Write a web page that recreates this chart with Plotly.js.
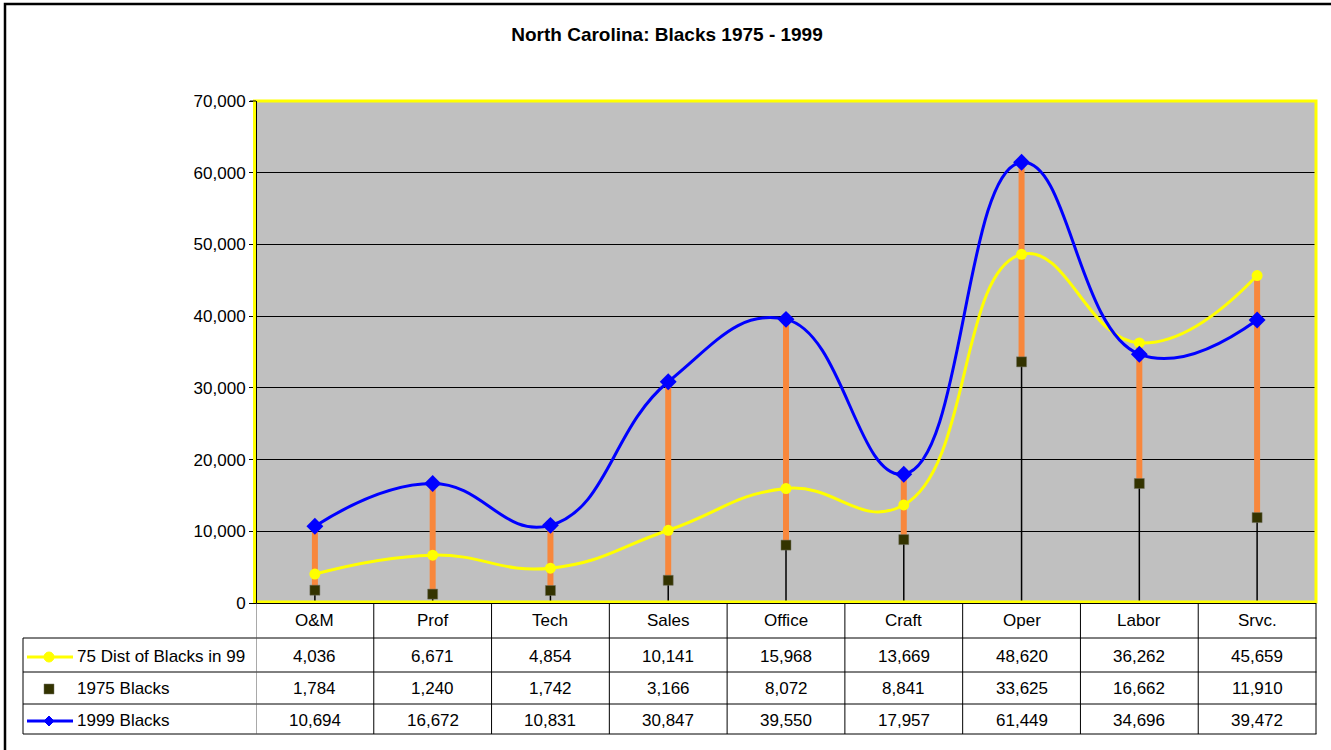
<!DOCTYPE html>
<html>
<head>
<meta charset="utf-8">
<script src="https://cdn.plot.ly/plotly-3.0.1.min.js"></script>
<style>html,body{margin:0;padding:0;background:#fff}#chart{width:1331px;height:750px}</style>
</head>
<body>
<div id="chart"></div>
<script>
const categories = ['O&M','Prof','Tech','Sales','Office','Craft','Oper','Labor','Srvc.'];
const dist75 = [4036,6671,4854,10141,15968,13669,48620,36262,45659];
const blacks1975 = [1784,1240,1742,3166,8072,8841,33625,16662,11910];
const blacks1999 = [10694,16672,10831,30847,39550,17957,61449,34696,39472];
const seriesNames = ['75 Dist of Blacks in 99','1975 Blacks','1999 Blacks'];
const chartTitle = 'North Carolina: Blacks 1975 - 1999';

const W = 1331, H = 750;
const L = 256, R = 1316, T = 101, B = 603;
const PW = R - L, PH = B - T;
const px = v => (v - L) / PW;
const py = v => (B - v) / PH;
const FONT = 'Arial, "Liberation Sans", sans-serif';

const idx = categories.map((c, i) => i);
const fmt = v => v.toLocaleString('en-US');

// high-low and drop lines computed from the series
const hiX = [], hiY = [], dropX = [], dropY = [];
idx.forEach(i => {
  const vals = [dist75[i], blacks1975[i], blacks1999[i]];
  const mx = Math.max(...vals), mn = Math.min(...vals);
  hiX.push(i, i, null); hiY.push(mn, mx, null);
  dropX.push(i, i, null); dropY.push(0, mx, null);
});

const traces = [
  {x: dropX, y: dropY, mode: 'lines', line: {color: '#000000', width: 1.5}, hoverinfo: 'skip', showlegend: false},
  {x: hiX, y: hiY, mode: 'lines', line: {color: '#F8873C', width: 6}, hoverinfo: 'skip', showlegend: false},
  {x: idx, y: dist75, name: seriesNames[0], mode: 'lines+markers',
   line: {color: '#FFFF00', width: 3, shape: 'spline', smoothing: 1.3},
   marker: {symbol: 'circle', size: 11, color: '#FFFF00'}},
  {x: idx, y: blacks1975, name: seriesNames[1], mode: 'markers',
   marker: {symbol: 'square', size: 10, color: '#333300', line: {color: '#707060', width: 0.5}}},
  {x: idx, y: blacks1999, name: seriesNames[2], mode: 'lines+markers',
   line: {color: '#0000FF', width: 3, shape: 'spline', smoothing: 1.3},
   marker: {symbol: 'diamond', size: 13, color: '#0000FF'}}
];

const shapes = [];
const annotations = [];
// outer frame
shapes.push({type: 'rect', xref: 'paper', yref: 'paper', x0: px(5), x1: px(1345), y0: py(4), y1: py(765),
  line: {color: '#000', width: 2.5}, fillcolor: 'rgba(0,0,0,0)', layer: 'above'});
// plot area yellow border
shapes.push({type: 'rect', xref: 'paper', yref: 'paper', x0: px(254.5), x1: px(1316), y0: py(602), y1: py(101),
  line: {color: '#FFFF00', width: 3}, fillcolor: 'rgba(0,0,0,0)', layer: 'above'});
// left axis line inside the border
shapes.push({type: 'line', xref: 'paper', yref: 'paper', x0: px(256.5), x1: px(256.5), y0: py(603), y1: py(101),
  line: {color: '#000', width: 1}, layer: 'above'});
shapes.push({type: 'line', xref: 'paper', yref: 'paper', x0: px(250), x1: px(256), y0: py(101), y1: py(101),
  line: {color: '#000', width: 1}, layer: 'above'});
// bottom axis line
shapes.push({type: 'line', xref: 'paper', yref: 'paper', x0: px(250), x1: px(1316), y0: py(603.5), y1: py(603.5),
  line: {color: '#000', width: 1.2}, layer: 'above'});

// data table
const rowLines = [638, 672, 704, 734];
rowLines.forEach(y => shapes.push({type: 'line', xref: 'paper', yref: 'paper', x0: px(23), x1: px(1316.5), y0: py(y), y1: py(y),
  line: {color: '#000', width: 1}}));
shapes.push({type: 'line', xref: 'paper', yref: 'paper', x0: px(23), x1: px(23), y0: py(638), y1: py(734),
  line: {color: '#000', width: 1}});
shapes.push({type: 'line', xref: 'paper', yref: 'paper', x0: px(1316), x1: px(1316), y0: py(603), y1: py(734),
  line: {color: '#000', width: 1}});
idx.forEach(i => {
  shapes.push({type: 'line', xref: 'x', yref: 'paper', x0: i - 0.5, x1: i - 0.5, y0: py(603), y1: py(734),
    line: {color: i === 0 ? '#555' : '#000', width: 1}});
});

const rowCenters = [620, 656, 688, 720];
idx.forEach(i => {
  annotations.push({xref: 'x', yref: 'paper', x: i, y: py(rowCenters[0]), text: categories[i], showarrow: false,
    font: {family: FONT, size: 17, color: '#000'}, xanchor: 'center', yanchor: 'middle'});
  [dist75, blacks1975, blacks1999].forEach((arr, r) => {
    annotations.push({xref: 'x', yref: 'paper', x: i, y: py(rowCenters[r + 1]), text: fmt(arr[i]), showarrow: false,
      font: {family: FONT, size: 17, color: '#000'}, xanchor: 'center', yanchor: 'middle'});
  });
});
// legend keys in table
seriesNames.forEach((n, r) => {
  annotations.push({xref: 'paper', yref: 'paper', x: px(75), y: py(rowCenters[r + 1]), text: n, showarrow: false,
    font: {family: FONT, size: 17, color: '#000'}, xanchor: 'left', yanchor: 'middle'});
});
const ky1 = 657, ky2 = 689, ky3 = 721;
shapes.push({type: 'line', xref: 'paper', yref: 'paper', x0: px(27), x1: px(73), y0: py(ky1), y1: py(ky1), line: {color: '#FFFF00', width: 3}});
shapes.push({type: 'circle', xref: 'paper', yref: 'paper', x0: px(44), x1: px(54), y0: py(ky1 - 5), y1: py(ky1 + 5), line: {color: '#FFFF00', width: 1}, fillcolor: '#FFFF00'});
shapes.push({type: 'rect', xref: 'paper', yref: 'paper', x0: px(44), x1: px(54), y0: py(ky2 - 5), y1: py(ky2 + 5), line: {color: '#707060', width: 0.5}, fillcolor: '#333300'});
shapes.push({type: 'line', xref: 'paper', yref: 'paper', x0: px(27), x1: px(73), y0: py(ky3), y1: py(ky3), line: {color: '#0000FF', width: 3}});
shapes.push({type: 'path', xref: 'paper', yref: 'paper',
  path: `M ${px(49)} ${py(ky3 - 5)} L ${px(54)} ${py(ky3)} L ${px(49)} ${py(ky3 + 5)} L ${px(44)} ${py(ky3)} Z`,
  line: {color: '#0000FF', width: 1}, fillcolor: '#0000FF'});

const layout = {
  width: W, height: H,
  margin: {l: L, r: W - R, t: T, b: H - B, pad: 0},
  paper_bgcolor: '#FFFFFF',
  plot_bgcolor: '#C0C0C0',
  showlegend: false,
  title: {text: '<b>' + chartTitle + '</b>', x: 667 / W, xref: 'container', xanchor: 'center', y: 1 - 34 / H, yref: 'container', yanchor: 'middle',
    font: {family: FONT, size: 19, color: '#000'}},
  xaxis: {range: [-0.5, 8.5], showgrid: false, zeroline: false, showticklabels: false, ticks: '', showline: false, fixedrange: true},
  yaxis: {range: [0, 70000], dtick: 10000, tickformat: ',d', showgrid: true, gridcolor: '#000000', gridwidth: 1,
    zeroline: false, showline: false, ticks: 'outside', ticklen: 6, tickcolor: '#000', tickwidth: 1,
    tickfont: {family: FONT, size: 17, color: '#000'}, fixedrange: true},
  shapes: shapes,
  annotations: annotations
};

Plotly.newPlot('chart', traces, layout, {displayModeBar: false, staticPlot: true});
</script>
</body>
</html>
